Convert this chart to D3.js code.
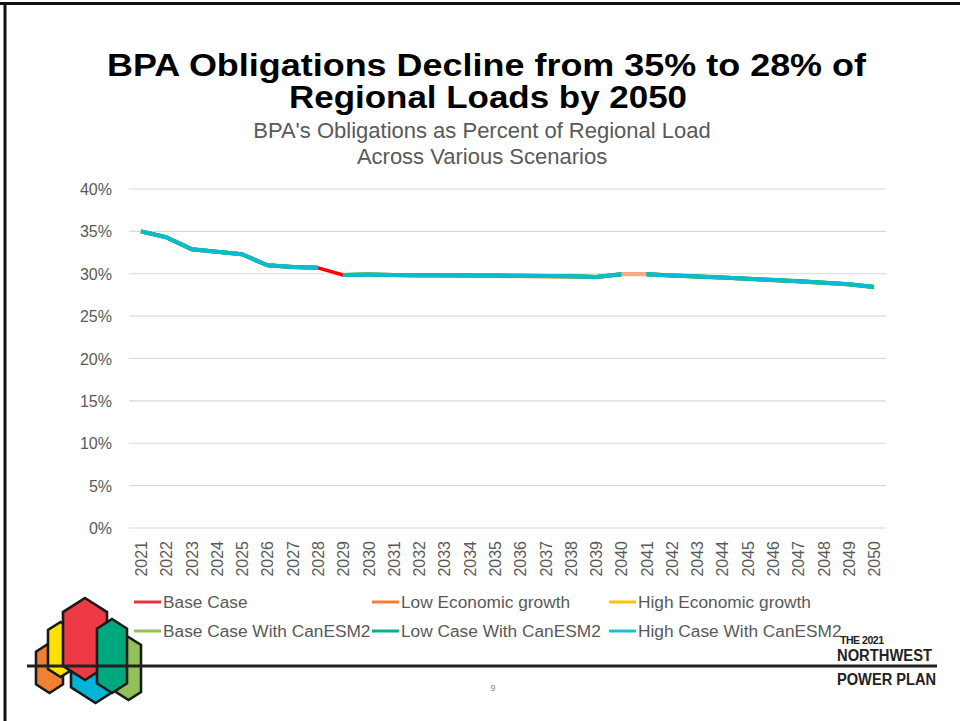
<!DOCTYPE html>
<html><head><meta charset="utf-8">
<script src="https://cdn.jsdelivr.net/npm/d3@7"></script>
<style>body{margin:0;background:#fff}svg{display:block}</style>
</head><body>
<svg id="c" width="960" height="721"></svg>
<script>
const years = d3.range(2021, 2051).map(String);
const yTicks = [0, 0.05, 0.10, 0.15, 0.20, 0.25, 0.30, 0.35, 0.40];
const seriesNames = ["Base Case","Low Economic growth","High Economic growth","Base Case With CanESM2","Low Case With CanESM2","High Case With CanESM2"];
const seriesColors = ["#FF0000","#F4B183","#FFC000","#8DC05A","#00B07D","#0ABCCF"];
const legendColors = ["#E8333C","#F07F34","#FFC000","#92C05A","#00B48A","#1DBDD6"];
// values in percent
const baseCase = [35.0,34.3,32.9,32.6,32.3,31.0,30.8,30.7,29.85,29.9,29.86,29.83,29.81,29.8,29.78,29.76,29.72,29.7,29.62,29.93,29.93,29.8,29.68,29.55,29.4,29.27,29.12,28.95,28.75,28.45];
const lowEcon = [35.0,34.3,32.9,32.6,32.3,31.0,30.8,30.7,29.85,29.88,29.83,29.79,29.76,29.74,29.72,29.7,29.66,29.64,29.58,29.93,29.93,29.78,29.65,29.52,29.37,29.24,29.09,28.93,28.73,28.44];
const highEcon = [35.0,34.3,32.9,32.6,32.3,31.0,30.8,30.7,29.85,29.9,29.86,29.83,29.81,29.8,29.78,29.76,29.72,29.7,29.62,29.93,29.93,29.8,29.68,29.55,29.4,29.27,29.12,28.95,28.75,28.45];
const baseCanESM2 = [35.0,34.3,32.9,32.6,32.3,31.0,30.8,30.7,29.85,29.9,29.86,29.83,29.81,29.8,29.78,29.76,29.72,29.7,29.62,29.93,29.93,29.82,29.7,29.57,29.42,29.29,29.14,28.97,28.77,28.46];
const lowCanESM2 = [35.0,34.3,32.9,32.6,32.3,31.0,30.8,30.7,29.85,29.9,29.86,29.83,29.81,29.8,29.78,29.76,29.72,29.7,29.62,29.93,29.93,29.8,29.68,29.55,29.4,29.27,29.12,28.95,28.75,28.45];
const highCanESM2 = [35.0,34.3,32.9,32.6,32.3,31.0,30.8,30.7,29.85,29.88,29.85,29.83,29.81,29.8,29.78,29.76,29.72,29.7,29.62,29.93,29.93,29.8,29.68,29.55,29.4,29.27,29.12,28.95,28.75,28.45];
// segments (start year) missing from each series
const gapStarts = [[],["2028"],["2028","2040"],["2028","2040"],["2028","2040"],["2028","2040"]];
const seriesValues = [baseCase,lowEcon,highEcon,baseCanESM2,lowCanESM2,highCanESM2];

const svg = d3.select("#c");
// slide border
svg.append("line").attr("x1",0).attr("x2",960).attr("y1",3.5).attr("y2",3.5).attr("stroke","#111").attr("stroke-width",3);
svg.append("line").attr("x1",5).attr("x2",5).attr("y1",2).attr("y2",721).attr("stroke","#111").attr("stroke-width",3);

// titles
const tFont = {"font-family":"Liberation Sans, Arial, sans-serif","font-weight":"bold","font-size":31,"fill":"#000"};
const t1 = svg.append("text").attr("x",107).attr("y",76).attr("textLength",759).attr("lengthAdjust","spacingAndGlyphs").text("BPA Obligations Decline from 35% to 28% of");
const t2 = svg.append("text").attr("x",289).attr("y",108).attr("textLength",398).attr("lengthAdjust","spacingAndGlyphs").text("Regional Loads by 2050");
[t1,t2].forEach(t=>Object.entries(tFont).forEach(([k,v])=>t.attr(k,v)));
const sub = svg.append("text").attr("text-anchor","middle").attr("font-family","Liberation Sans, Arial, sans-serif").attr("font-size",22).attr("fill","#595959");
sub.append("tspan").attr("x",482).attr("y",138).text("BPA's Obligations as Percent of Regional Load");
sub.append("tspan").attr("x",482).attr("y",164).text("Across Various Scenarios");

const x = d3.scalePoint().domain(years).range([141, 874]);
const y = d3.scaleLinear().domain([0, 0.40]).range([528, 189]);

// gridlines
svg.append("g").selectAll("line").data(yTicks).join("line")
  .attr("x1",129).attr("x2",886).attr("y1",d=>y(d)).attr("y2",d=>y(d))
  .attr("stroke","#D9D9D9").attr("stroke-width",1.2);

// y axis labels
const yAxis = d3.axisLeft(y).tickValues(yTicks).tickFormat(d3.format(".0%")).tickSize(0).tickPadding(0);
const yg = svg.append("g").attr("transform","translate(112,0)").call(yAxis);
yg.select(".domain").remove();
yg.selectAll("text").attr("font-family","Liberation Sans, Arial, sans-serif").attr("font-size",16).attr("fill","#595959").attr("dy","0.35em");

// x axis labels
const xAxis = d3.axisBottom(x).tickSize(0).tickPadding(0);
const xg = svg.append("g").attr("transform","translate(0,541)").call(xAxis);
xg.select(".domain").remove();
xg.selectAll("text").attr("font-family","Liberation Sans, Arial, sans-serif").attr("font-size",16).attr("fill","#595959")
  .attr("transform","rotate(-90)").attr("text-anchor","end").attr("x",0).attr("y",0).attr("dy","0.35em");

// lines
const line = d3.line().x(d=>x(d.year)).y(d=>y(d.v/100));
seriesValues.forEach((vals,si)=>{
  const segs = [];
  for (let i=0;i<vals.length-1;i++){
    if (vals[i]==null || vals[i+1]==null) continue;
    if (gapStarts[si].includes(years[i])) continue;
    const last = segs[segs.length-1];
    const p0 = {year:years[i], v:vals[i]}, p1 = {year:years[i+1], v:vals[i+1]};
    if (last && last[last.length-1].year===years[i]) last.push(p1); else segs.push([p0,p1]);
  }
  svg.append("g").selectAll("path").data(segs).join("path")
    .attr("d",line).attr("fill","none").attr("stroke",seriesColors[si])
    .attr("stroke-width",si===0?3.5:4).attr("stroke-linejoin","round").attr("stroke-linecap","butt");
});

// legend
const legendCols = [134, 372, 609];
const legendRows = [602, 631];
const lg = svg.append("g").selectAll("g").data(seriesNames).join("g")
  .attr("transform",(d,i)=>`translate(${legendCols[i%3]},${legendRows[Math.floor(i/3)]})`);
lg.append("line").attr("x1",0).attr("x2",27).attr("y1",0).attr("y2",0).attr("stroke",(d,i)=>legendColors[i]).attr("stroke-width",3);
lg.append("text").attr("x",29).attr("y",0).attr("dy","0.35em").attr("font-family","Liberation Sans, Arial, sans-serif").attr("font-size",17.3).attr("fill","#595959").text(d=>d);

// logo
const hexes = [
  {l:36,r:63,t:643,b:693,c:"#F08133"},
  {l:48,r:73,t:622,b:677,c:"#FFE000"},
  {l:71,r:120,t:640,b:703,c:"#00B4D8"},
  {l:63,r:107,t:598,b:680,c:"#EE3A45"},
  {l:116,r:141,t:637,b:700,c:"#92C15A"},
  {l:97,r:127,t:619,b:693,c:"#00A87E"}
];
const lgG = svg.append("g");
lgG.selectAll("path").data(hexes).join("path")
  .attr("d",h=>{const cx=(h.l+h.r)/2, k=(h.r-h.l)*0.32; return `M${cx},${h.t}L${h.r},${h.t+k}L${h.r},${h.b-k}L${cx},${h.b}L${h.l},${h.b-k}L${h.l},${h.t+k}Z`;})
  .attr("fill",h=>h.c).attr("stroke","#1a1a1a").attr("stroke-width",2.6).attr("stroke-linejoin","miter");
svg.append("line").attr("x1",27).attr("x2",937).attr("y1",666).attr("y2",666).attr("stroke","#222").attr("stroke-width",3);

svg.append("text").attr("x",840).attr("y",644).attr("font-family","Liberation Sans, Arial, sans-serif").attr("font-weight","bold").attr("font-size",10.5).attr("fill","#222").attr("textLength",44).text("THE 2021");
svg.append("text").attr("x",837).attr("y",661).attr("font-family","Liberation Sans, Arial, sans-serif").attr("font-weight","bold").attr("font-size",16).attr("fill","#222").attr("textLength",95).attr("lengthAdjust","spacingAndGlyphs").text("NORTHWEST");
svg.append("text").attr("x",837).attr("y",685).attr("font-family","Liberation Sans, Arial, sans-serif").attr("font-weight","bold").attr("font-size",16).attr("fill","#222").attr("textLength",99).attr("lengthAdjust","spacingAndGlyphs").text("POWER PLAN");
svg.append("text").attr("x",493).attr("y",691).attr("text-anchor","middle").attr("font-family","Liberation Sans, Arial, sans-serif").attr("font-size",9).attr("fill","#888").text("9");
</script>
</body></html>
